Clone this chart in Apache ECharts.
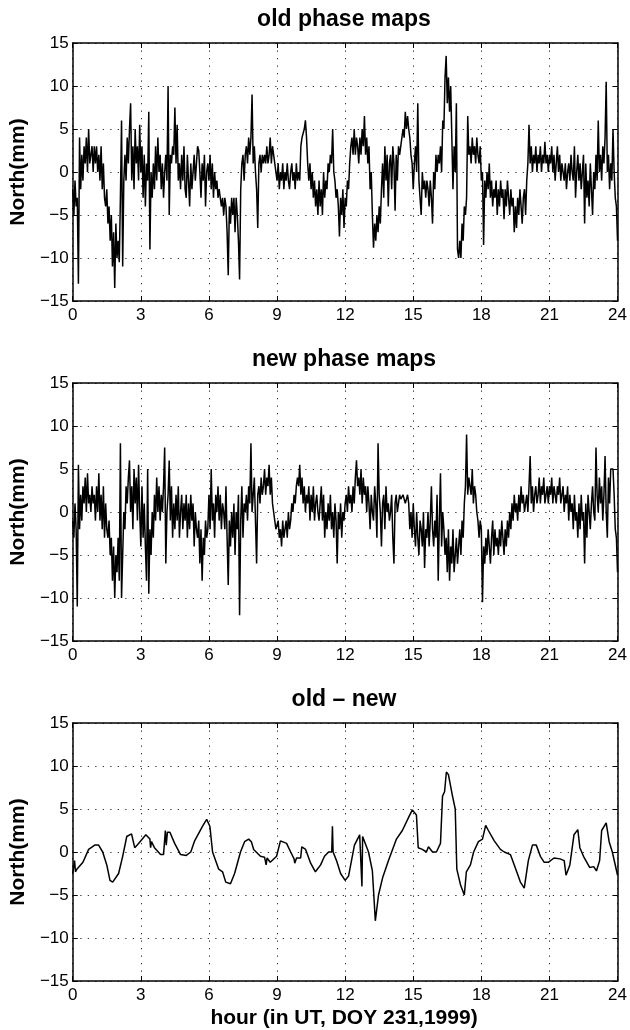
<!DOCTYPE html>
<html>
<head>
<meta charset="utf-8">
<script src="https://cdn.jsdelivr.net/npm/echarts@6/dist/echarts.min.js"></script>
<style>
html,body{margin:0;padding:0;background:#fff;}
#chart{width:630px;height:1030px;}
</style>
</head>
<body>
<div id="chart"></div>
<script>
// ---- data ----
const xTicks = [0, 3, 6, 9, 12, 15, 18, 21, 24];
const yTicks = [-15, -10, -5, 0, 5, 10, 15];
const panelTitles = ['old phase maps', 'new phase maps', 'old \u2013 new'];
const xTitle = 'hour (in UT, DOY 231,1999)';
const yTitle = 'North(mm)';
const STEP = 0.05; // hours between samples of the two noisy series

const oldPhase = [
-2,-5,-1,-4,-3,-13,4,-2,2,-1,3,1,4,0,5,1,2,3,0,3,
1,3,0,2,-1,3,-2,1,-3,-4,-2,-6,-4,-8,-5,-11,-7,-13.5,-6,-10,
-8,-10.5,-3,6,-11,-1,2,-1,4,1,5,8,-1,3,-2,5,1,3,-1,5.5,
0,3,-3,2,-4,1,-1,7,-9,0,-3,1,-2,3,-1,4,0,2,-2,1,
-3,0,2,-1,10,-5,2,1,3,2,7.5,1,5.5,-1,1,-2,2,-1,3,-2,
-3,2,-1,-4,1,-2,0,2,-1,1,3,2.5,0,-3,1,-1,2,-4,0,1,
-1,2,-2,1,-3,0,-2,-1,-3,-2,-3,-4,-3,-5,-3,-4,-7,-12,-4,-6,
-3,-5,-3,-7,-3,-5,-8,-12.5,-2,1,2,-1,2,3,1,4,2,4,9,1,
3,0,-2,-6.5,1,2,0,2,1,2,1,3,1,2,4,1,3,2,1,0,
-1,1,-2,0,-1,1,-2,0,-1,1,-1,-2,0,1,-1,0,-2,1,-1,0,
-1,3,4,4.5,5,6,4,1,-1,1,-2,0,-3,-1,-4,-2,-5,-1,-4,-2,
-5,0,-3,-1,-2,1,0,2,1,5,0,-1,-3,-2,-4,-7.5,-3,-5,-2,-6.5,
-3,-4,-1,-2,1,3,4,2,5,2,4,3,1,4,2,5,3,6.5,2,4,
1,3,-2,0,-5,-8.8,-6,-8,-5,-7,-4,-6,-2,1,-3,3,-1,2,-4,1,
2,-2,3,1,-4.5,2,-1,3,2,3,4,5,4,7,5,6.5,5,4,2,1,
-2,1,3,0,8,-1,-3,-5,0,-2,-1,-3,-1,-2,-4,-1,-3,-6,0,-2,
2,0,2,1,3,0,6,5,11,13.5,8,11,7,10,4,-2,3,0,8,-9,
-10,-8,-10,-6,-8,-4,-5,-3,6.5,2,3,1,4,2,3,1,4,2,1,3,
-1,0,-8.5,-1,-3,0,-2,1,-3,-1,-4,-2,-3,-1,-5,-2,-4,-1,-3,-2,
-5.5,-2,-4,-1,-3,-5,-2,-4,-3,-7,-4,-6.5,-3,-5,-2,-4,-6,-3,-2,-5,
-1,1,5.5,1,3,0,2,1,3,0,2,1,3,0,2,1,3.5,1,2,0,
2,1,3,0,2,-1,1,3,0,2,-1,1,0,-1,1,-2,0,1,-1,2,
0,-1,3,-3,0,2,-1,1,-2,0,2,-6,1,-3,-1,-4,1,-2,-5,0,
-2,2,-1,6,0,2,-1,3,1,4,10.5,0,2,-2,1,-1,5,0,-3,-4,
-8
];

const newPhase = [
-1,-3,1,-2,-11,5.5,-2,2,-1,3,1,4,0,4.5,1,2,0,3,1,2,
-1,3,0,4.5,-1,2,-2,3,-3,1,-2,-3,-1,-5,-3,-8,-4,-10,-5,-7,
-3,-8,8,-10,-5,0,-2,3,1,4,6,0,3,-2,5,1,4,-1,5.5,0,
-4,3,-3,1,-4,-8,5,-9.5,-2,-5,0,-3,2,-1,4,0,3,-1,2,0,
3,7.5,-6,0,2,6,-1,3,-3,1,-2,2,-1,3,-3,0,2,-2,1,-1,
2,-3,1,-2,2,-1,1,-4,0,-2,-3,-1,-6,-2,-8,-3,-5,-1,-3,-2,
2,-2,5,-1,1,-3,2,0,3,-1,2,-2,1,0,-2,3,-3,-8.5,-1,-4,
0,-3,1,-5,0,-2,2,-12,-1,3,-3,1,0,2,-1,3,1,8,0,2,
4,-1,-6,2,3,1,4,2,3,5,2,4,3,5.5,2,4,1,0,-1,-2,
-2,-1,-3,-2,-4,-1,-3,-2,-1,-3,0,-2,-1,1,0,2,1,3,4,3,
5.5,2,4,1,3,0,2,1,3,-1,2,0,3,-1,1,2,0,-1,1,3,
-1,2,-3,0,-2,1,-1,2,-2,0,-3,1,-1,-6,0,-2,1,-3,0,-1,
1,2,0,3,1,2,0,3,1,4,6,3,4,2,5,1,4,2,3,0,
3,1,-2,2,0,-1,3,1,-3,8,2,0,-4,1,2,-2,3,0,1,-1,
0,2,-3,-6,1,2,0,1,2,1.5,1.5,2,1.5,1,1.5,2,1,-2,0,-3,
1,-2,-4,0,-3,-5,-1,-2,-4,0,-6.5,-2,-3,0,-4,-1,3,-2,-4,-1,
-3,2,-8,-1,4.5,-4,0,-2,-5,-3,-7,-2,-8,-4,-6,-2,-7,-5,-3,-6,
-4,-2,-5,-1,-3,1,3,9,2,4,3,2,5,1,3,2,0,-1,-3,-1,
-2,-10.5,-4,-6,-3,-5,-2,-4,-6,-3,-1,-5,-2,-4,-3,-5,-2,-4,-1,-3,
-5,-2,-4,-1,-3,0,-2,1,-1,2,0,1,-1,2,0,3,1,2,0,1,
2,0,3,6.5,1,3,0,2,3,1,2,4,1,3,2,4,1,2,3,1,
3,2,4,1,3,2,1,3,2,4,1,2,3,0,2,1,3,-1,2,0,
1,-2,2,-1,0,-3,1,-2,2,-1,0,-6,1,-3,2,0,-2,1,3,0,
-1,7.5,2,0,4,1,3,-1,2,6.5,0,-3,4,1,5,5,5,2,-2,-3,
-7
];

const diffHours = [
0,0.08,0.12,0.18,0.45,0.7,0.97,1.14,1.32,1.5,1.64,1.76,2.02,2.2,2.38,2.59,2.73,2.9,3.22,3.4,3.43,3.47,3.6,3.87,4.0,4.08,4.12,4.17,4.28,4.49,4.75,5.0,5.2,5.37,5.72,5.9,6.04,6.16,6.43,6.6,6.74,6.95,7.13,7.39,7.57,7.75,7.87,7.97,8.27,8.45,8.52,8.56,8.7,8.98,9.15,9.42,9.6,9.75,9.78,9.86,10.04,10.09,10.26,10.48,10.69,10.92,11.09,11.27,11.41,11.44,11.47,11.62,11.8,12.0,12.15,12.41,12.64,12.71,12.74,12.77,12.8,12.84,13.03,13.2,13.33,13.47,13.65,13.91,14.26,14.52,14.79,14.96,15.14,15.22,15.4,15.58,15.67,15.85,16.02,16.2,16.29,16.38,16.46,16.55,16.73,16.85,16.92,17.08,17.25,17.34,17.52,17.66,17.87,18.05,18.19,18.31,18.57,18.84,19.01,19.28,19.45,19.72,19.89,20.07,20.25,20.42,20.6,20.77,20.95,21.2,21.47,21.65,21.73,21.9,22.08,22.25,22.34,22.5,22.77,22.95,23.07,23.21,23.3,23.5,23.63,23.77,23.85,24
];
const diffValues = [
-2.5,-1,-2.3,-2,-1.2,0.3,0.8,0.8,0,-1.5,-3.3,-3.5,-2.5,-0.5,1.8,2.1,0.5,1,2,1.5,0.5,1.2,0.5,-0.3,-0.3,2.5,0.8,2.3,2.3,1,-0.3,-0.4,0,1.3,3,3.8,3,0,-2,-2.3,-3.5,-3.7,-2.5,0,1.2,1.5,1.2,0.3,-0.5,-0.6,-1.5,-0.7,-1.2,-0.5,1.3,1,0,-0.8,-1.3,-0.7,-0.7,0.6,0.3,-1.3,-2.3,-1.5,-0.5,0,0,3,0,-1,-2.5,-3.3,-2.8,0.8,2,1.8,-4,1.8,2,1.8,0,-2.2,-8,-5,-3,-1,1.5,2.5,4,4.9,4.3,0.5,0.3,0,0.6,0,0,1,6.5,7,9.3,9,6.5,5,-2,-3.8,-5,-2.3,-1.5,0,1.2,1.5,3.1,2.5,1.3,0.3,0,-0.3,-1.5,-3.5,-4.2,-1,0.8,0.8,-0.5,-1.2,-1.2,-0.7,-0.8,-1,-2.7,-1.5,2,2.6,0.5,-0.5,-1.8,-1.7,-2.2,-1,2.5,3.4,1.2,0,0,-2.7
];

// ---- chart ----
const seriesData = [
  oldPhase.map((v, i) => [+(i * STEP).toFixed(2), v]),
  newPhase.map((v, i) => [+(i * STEP).toFixed(2), v]),
  diffHours.map((h, i) => [h, diffValues[i]])
];

const FONT = '"Liberation Sans", Arial, Helvetica, sans-serif';
const tops = [43, 383, 723];
const G = { left: 70, width: 548, height: 258 };
const minus = v => String(v).replace('-', '\u2212');

const grid = [], xAxis = [], yAxis = [], series = [], graphic = [];
tops.forEach((top, i) => {
  grid.push({ left: G.left, top: top, width: G.width, height: G.height, containLabel: false });
  const xBase = {
    type: 'value', gridIndex: i,
    min: xTicks[0], max: xTicks[xTicks.length - 1], interval: xTicks[1] - xTicks[0],
    axisLine: { show: true, onZero: false, lineStyle: { color: '#000', width: 1.5 } },
    axisTick: { show: true, inside: true, length: 5, lineStyle: { color: '#000', width: 1 } }
  };
  const yBase = {
    type: 'value', gridIndex: i,
    min: yTicks[0], max: yTicks[yTicks.length - 1], interval: yTicks[1] - yTicks[0],
    axisLine: { show: true, onZero: false, lineStyle: { color: '#000', width: 1.5 } },
    axisTick: { show: true, inside: true, length: 5, lineStyle: { color: '#000', width: 1 } }
  };
  const grid_line = { show: true, lineStyle: { color: '#333', width: 1, type: [1.3, 6.2] } };
  xAxis.push(Object.assign({}, xBase, {
    position: 'bottom',
    splitLine: grid_line,
    axisLabel: { show: true, color: '#000', fontSize: 17, fontFamily: FONT, margin: 6, formatter: minus }
  }));
  xAxis.push(Object.assign({}, xBase, {
    position: 'top', splitLine: { show: false }, axisLabel: { show: false }
  }));
  yAxis.push(Object.assign({}, yBase, {
    position: 'left',
    splitLine: grid_line,
    name: yTitle, nameLocation: 'middle', nameGap: 39, nameRotate: 90,
    nameTextStyle: { color: '#000', fontSize: 21, fontWeight: 'bold', fontFamily: FONT },
    axisLabel: { show: true, color: '#000', fontSize: 17, fontFamily: FONT, margin: 4, formatter: minus }
  }));
  yAxis.push(Object.assign({}, yBase, {
    position: 'right', splitLine: { show: false }, axisLabel: { show: false }
  }));
  series.push({
    type: 'line', xAxisIndex: 2 * i, yAxisIndex: 2 * i,
    data: seriesData[i], showSymbol: false, symbol: 'none',
    lineStyle: { color: '#000', width: 1.5 }, clip: true, animation: false
  });
  graphic.push({
    type: 'text', x: G.left + G.width / 2, y: top - 23,
    style: {
      text: panelTitles[i], fill: '#000',
      font: 'bold 23px ' + FONT,
      textAlign: 'center', textVerticalAlign: 'middle', align: 'center', verticalAlign: 'middle'
    }
  });
});
graphic.push({
  type: 'text', x: G.left + G.width / 2, y: 1018,
  style: {
    text: xTitle, fill: '#000', font: 'bold 21px ' + FONT,
    textAlign: 'center', textVerticalAlign: 'middle', align: 'center', verticalAlign: 'middle'
  }
});

const chart = echarts.init(document.getElementById('chart'), null, { renderer: 'canvas' });
chart.setOption({
  animation: false,
  backgroundColor: '#fff',
  grid, xAxis, yAxis, series, graphic
});
</script>
</body>
</html>
